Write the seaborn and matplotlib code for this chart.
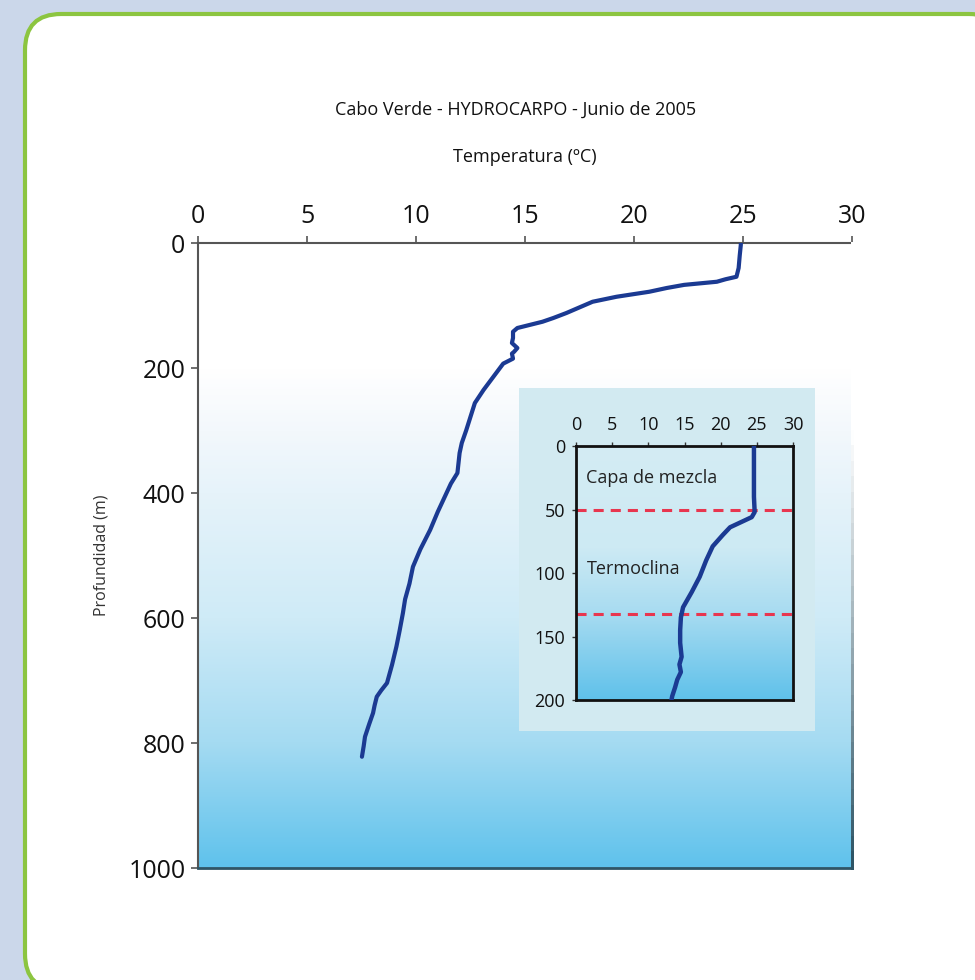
import numpy as np
import pandas as pd
import matplotlib
matplotlib.use("Agg")
import matplotlib.pyplot as plt
import seaborn as sns
from matplotlib.patches import FancyBboxPatch, Rectangle
from matplotlib.colors import LinearSegmentedColormap
from matplotlib.collections import LineCollection

# ---------------- data ----------------
title = "Cabo Verde - HYDROCARPO - Junio de 2005"
xlabel = "Temperatura (ºC)"
ylabel = "Profundidad (m)"

depth_main = [0, 3, 20, 40, 54, 58, 62, 67, 72, 78, 86, 94, 103, 112, 120, 126,
              136, 142, 152, 160, 168, 174, 177, 185, 193, 214, 235, 256, 278,
              300, 320, 336, 352, 368, 385, 400, 430, 459, 490, 518, 545, 570,
              592, 620, 646, 675, 704, 716, 726, 740, 752, 770, 790, 805, 822]
temp_main = [24.9, 24.9, 24.85, 24.8, 24.7, 24.2, 23.8, 22.3, 21.5, 20.7, 19.2,
             18.1, 17.5, 16.9, 16.3, 15.8, 14.65, 14.45, 14.45, 14.4, 14.65,
             14.5, 14.4, 14.45, 14.0, 13.55, 13.1, 12.7, 12.5, 12.3, 12.1, 12.0,
             11.95, 11.9, 11.6, 11.4, 11.0, 10.65, 10.2, 9.86, 9.7, 9.5, 9.4,
             9.25, 9.1, 8.9, 8.67, 8.4, 8.2, 8.1, 8.03, 7.85, 7.66, 7.6, 7.52]

depth_inset = [0, 20, 40, 52, 56, 60, 64, 70, 79, 90, 103, 115, 127, 135, 145,
               155, 166, 172, 178, 184, 190, 197, 200]
temp_inset = [24.6, 24.6, 24.6, 24.7, 24.3, 22.8, 21.3, 20.3, 18.9, 18.0, 17.1,
              16.0, 14.8, 14.5, 14.4, 14.4, 14.6, 14.3, 14.5, 14.0, 13.7, 13.3,
              13.2]

layer_bounds = [50, 132]
layer_labels = ["Capa de mezcla", "Termoclina"]
layer_label_pos = [(1.4, 25), (1.5, 97)]

main_xticks = [0, 5, 10, 15, 20, 25, 30]
main_yticks = [0, 200, 400, 600, 800, 1000]
inset_xticks = [0, 5, 10, 15, 20, 25, 30]
inset_yticks = [0, 50, 100, 150, 200]

# ---------------- style ----------------
sns.set_theme(style="white")
plt.rcParams["font.family"] = ["Open Sans", "DejaVu Sans"]

line_color = "#1b3a92"
fig = plt.figure(figsize=(9.75, 9.8), dpi=100)
fig.patch.set_facecolor("#cbd7ea")

panel = FancyBboxPatch((25 / 975, -10 / 980), 980 / 975, (1 - 14 / 980) + 10 / 980,
                       boxstyle="round,pad=0,rounding_size=0.037",
                       transform=fig.transFigure, facecolor="white",
                       edgecolor="#8cc540", linewidth=3, zorder=-5)
fig.patches.append(panel)

# ---------------- main axes ----------------
ax = fig.add_axes([198 / 975, 1 - 868 / 980, 654 / 975, 625 / 980])
grad_main = LinearSegmentedColormap.from_list(
    "gm", [(0.0, "#ffffff"), (0.2, "#ffffff"), (0.3, "#f3f8fc"), (0.4, "#e6f3fa"),
           (0.6, "#cfebf7"), (0.8, "#a5dbf2"), (1.0, "#5fc2ec")])
ax.imshow(np.linspace(0, 1, 256).reshape(-1, 1), cmap=grad_main, aspect="auto",
          extent=[0, 30, 1000, 0], zorder=0, interpolation="bilinear")

df_main = pd.DataFrame({"temp": temp_main, "depth": depth_main})
sns.lineplot(data=df_main, x="temp", y="depth", sort=False, estimator=None,
             color=line_color, linewidth=3, ax=ax, zorder=3)

ax.set_xlim(0, 30)
ax.set_ylim(1000, 0)
ax.xaxis.tick_top()
ax.xaxis.set_label_position("top")
ax.set_xticks(main_xticks)
ax.set_yticks(main_yticks)
ax.set_xlabel("")
ax.set_ylabel(ylabel, fontsize=11.5, color="#333333")
ax.yaxis.set_label_coords(-0.135, 0.5)
ax.tick_params(axis="x", which="both", top=True, bottom=False, direction="out",
               length=5, width=1.2, color="#555555", labelsize=18, pad=5,
               labelcolor="#111111")
ax.tick_params(axis="y", which="both", left=True, direction="out", length=5,
               width=1.2, color="#555555", labelsize=18, pad=4,
               labelcolor="#111111")
for s in ["top", "left"]:
    ax.spines[s].set_color("#555555")
    ax.spines[s].set_linewidth(1.5)
ax.spines["bottom"].set_color("#2f5566")
ax.spines["bottom"].set_linewidth(2)
ax.spines["right"].set_visible(False)
# fading right edge
yy = np.linspace(0, 1000, 41)
segs = [[(30, yy[i]), (30, yy[i + 1])] for i in range(len(yy) - 1)]
edge_cmap = LinearSegmentedColormap.from_list(
    "edge", [(0, "#ffffff"), (0.3, "#ffffff"), (1.0, "#2f5566")])
lc = LineCollection(segs, colors=edge_cmap(np.linspace(0, 1, len(segs))),
                    linewidths=2, transform=ax.transData, clip_on=False,
                    zorder=5, capstyle="projecting", antialiased=False)
ax.add_collection(lc)

fig.text(516 / 975, 1 - 110 / 980, title, ha="center", va="center",
         fontsize=13, color="#111111")
fig.text(525 / 975, 1 - 157 / 980, xlabel, ha="center", va="center",
         fontsize=13, color="#111111")

# ---------------- inset ----------------
inset_panel = Rectangle((519 / 975, 1 - 731 / 980), 296 / 975, 343 / 980,
                        transform=fig.transFigure, facecolor="#d2eaf1",
                        edgecolor="none", zorder=1)
fig.patches.append(inset_panel)

ax2 = fig.add_axes([576 / 975, 1 - 700 / 980, 217 / 975, 254 / 980], zorder=2)
grad_in = LinearSegmentedColormap.from_list(
    "gi", [(0.0, "#d4ecf3"), (0.4, "#cdeaf4"), (0.65, "#a9dcf1"), (1.0, "#5fc1ea")])
ax2.imshow(np.linspace(0, 1, 256).reshape(-1, 1), cmap=grad_in, aspect="auto",
           extent=[0, 30, 200, 0], zorder=0, interpolation="bilinear")
for b in layer_bounds:
    ax2.axhline(b, color="#e8364f", linewidth=2.2, linestyle=(0, (3.3, 2.3)),
                zorder=2)
df_in = pd.DataFrame({"temp": temp_inset, "depth": depth_inset})
sns.lineplot(data=df_in, x="temp", y="depth", sort=False, estimator=None,
             color=line_color, linewidth=3.2, ax=ax2, zorder=3)
for lab, (tx, ty) in zip(layer_labels, layer_label_pos):
    ax2.text(tx, ty, lab, fontsize=13, color="#222222", va="center", ha="left",
             zorder=4)
ax2.set_xlim(0, 30)
ax2.set_ylim(200, 0)
ax2.xaxis.tick_top()
ax2.set_xticks(inset_xticks)
ax2.set_yticks(inset_yticks)
ax2.set_xlabel("")
ax2.set_ylabel("")
ax2.tick_params(axis="x", top=True, bottom=False, direction="out", length=3,
                width=1, color="#333333", labelsize=13, pad=6, labelcolor="#111111")
ax2.tick_params(axis="y", left=True, direction="out", length=3, width=1,
                color="#333333", labelsize=13, pad=5, labelcolor="#111111")
for s in ax2.spines.values():
    s.set_color("#111111")
    s.set_linewidth(2)

fig.savefig("out.png", dpi=100, facecolor=fig.get_facecolor())
